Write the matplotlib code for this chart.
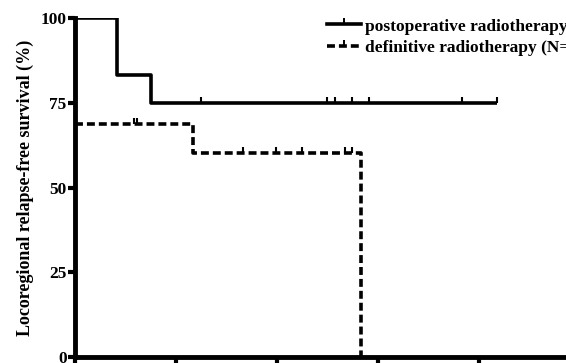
import matplotlib
matplotlib.use("Agg")
import matplotlib.pyplot as plt
from matplotlib.lines import Line2D

plt.rcParams["font.family"] = ["Liberation Serif", "DejaVu Serif"]
plt.rcParams["font.weight"] = "bold"

# Kaplan-Meier step data (time in months, survival in %)
post_times = [0, 8.3, 15.0, 83.6]
post_surv = [100, 83.33, 75, 75]
post_censor_t = [24.9, 49.9, 51.5, 54.9, 58.2, 76.6, 83.6]

def_times = [0, 23.4, 56.6]
def_surv = [68.75, 60.16, 0]
def_censor_t = [11.6, 12.3, 33.3, 39.8, 45.0, 53.5, 54.9]

y_ticks = [0, 25, 50, 75, 100]
x_ticks = [0, 20, 40, 60, 80, 100]

labels = ["postoperative radiotherapy (N=12)", "definitive radiotherapy (N=16)"]
y_label = "Locoregional relapse-free survival (%)"

DASH = (0, (2.2, 1.1))


def surv_at(times, surv, t):
    s = surv[0]
    for ti, si in zip(times, surv):
        if t >= ti:
            s = si
    return s


fig = plt.figure(figsize=(5.66, 3.63), dpi=100)
ax = fig.add_axes([75 / 566, 6 / 363, 505 / 566, 339 / 363])

ax.step(post_times, post_surv, where="post", color="black", lw=2.6, solid_capstyle="butt")
ax.plot(post_censor_t, [surv_at(post_times, post_surv, t) for t in post_censor_t],
        ls="none", marker=2, ms=4.5, mew=1.5, color="black")

ax.step(def_times, def_surv, where="post", color="black", lw=2.6, ls=DASH)
ax.plot(def_censor_t, [surv_at(def_times, def_surv, t) for t in def_censor_t],
        ls="none", marker=2, ms=4.5, mew=1.5, color="black")

ax.set_xlim(0, 100)
ax.set_ylim(0, 100)
ax.set_yticks(y_ticks)
ax.set_xticks(x_ticks)
ax.set_xticklabels([])
ax.set_yticklabels([str(v) for v in y_ticks], fontsize=12.5, fontweight="bold")
for side in ("top", "right"):
    ax.spines[side].set_visible(False)
for side in ("left", "bottom"):
    ax.spines[side].set_linewidth(3.5)
ax.tick_params(axis="both", direction="out", length=5, width=3, pad=1)

ax.set_ylabel(y_label, fontsize=13, fontweight="bold", labelpad=5)

handles = [
    Line2D([0], [0], color="black", lw=2.6, marker=2, ms=4, mew=1.4),
    Line2D([0], [0], color="black", lw=2.6, ls=DASH, marker=2, ms=4, mew=1.4),
]
ax.legend(handles, labels, loc="upper left", bbox_to_anchor=(236 / 505, 1.045),
          frameon=False, handlelength=2.0, handletextpad=0.2,
          labelspacing=0.3, numpoints=1, prop={"weight": "bold", "size": 12.5})

fig.savefig("out.png", dpi=100)
